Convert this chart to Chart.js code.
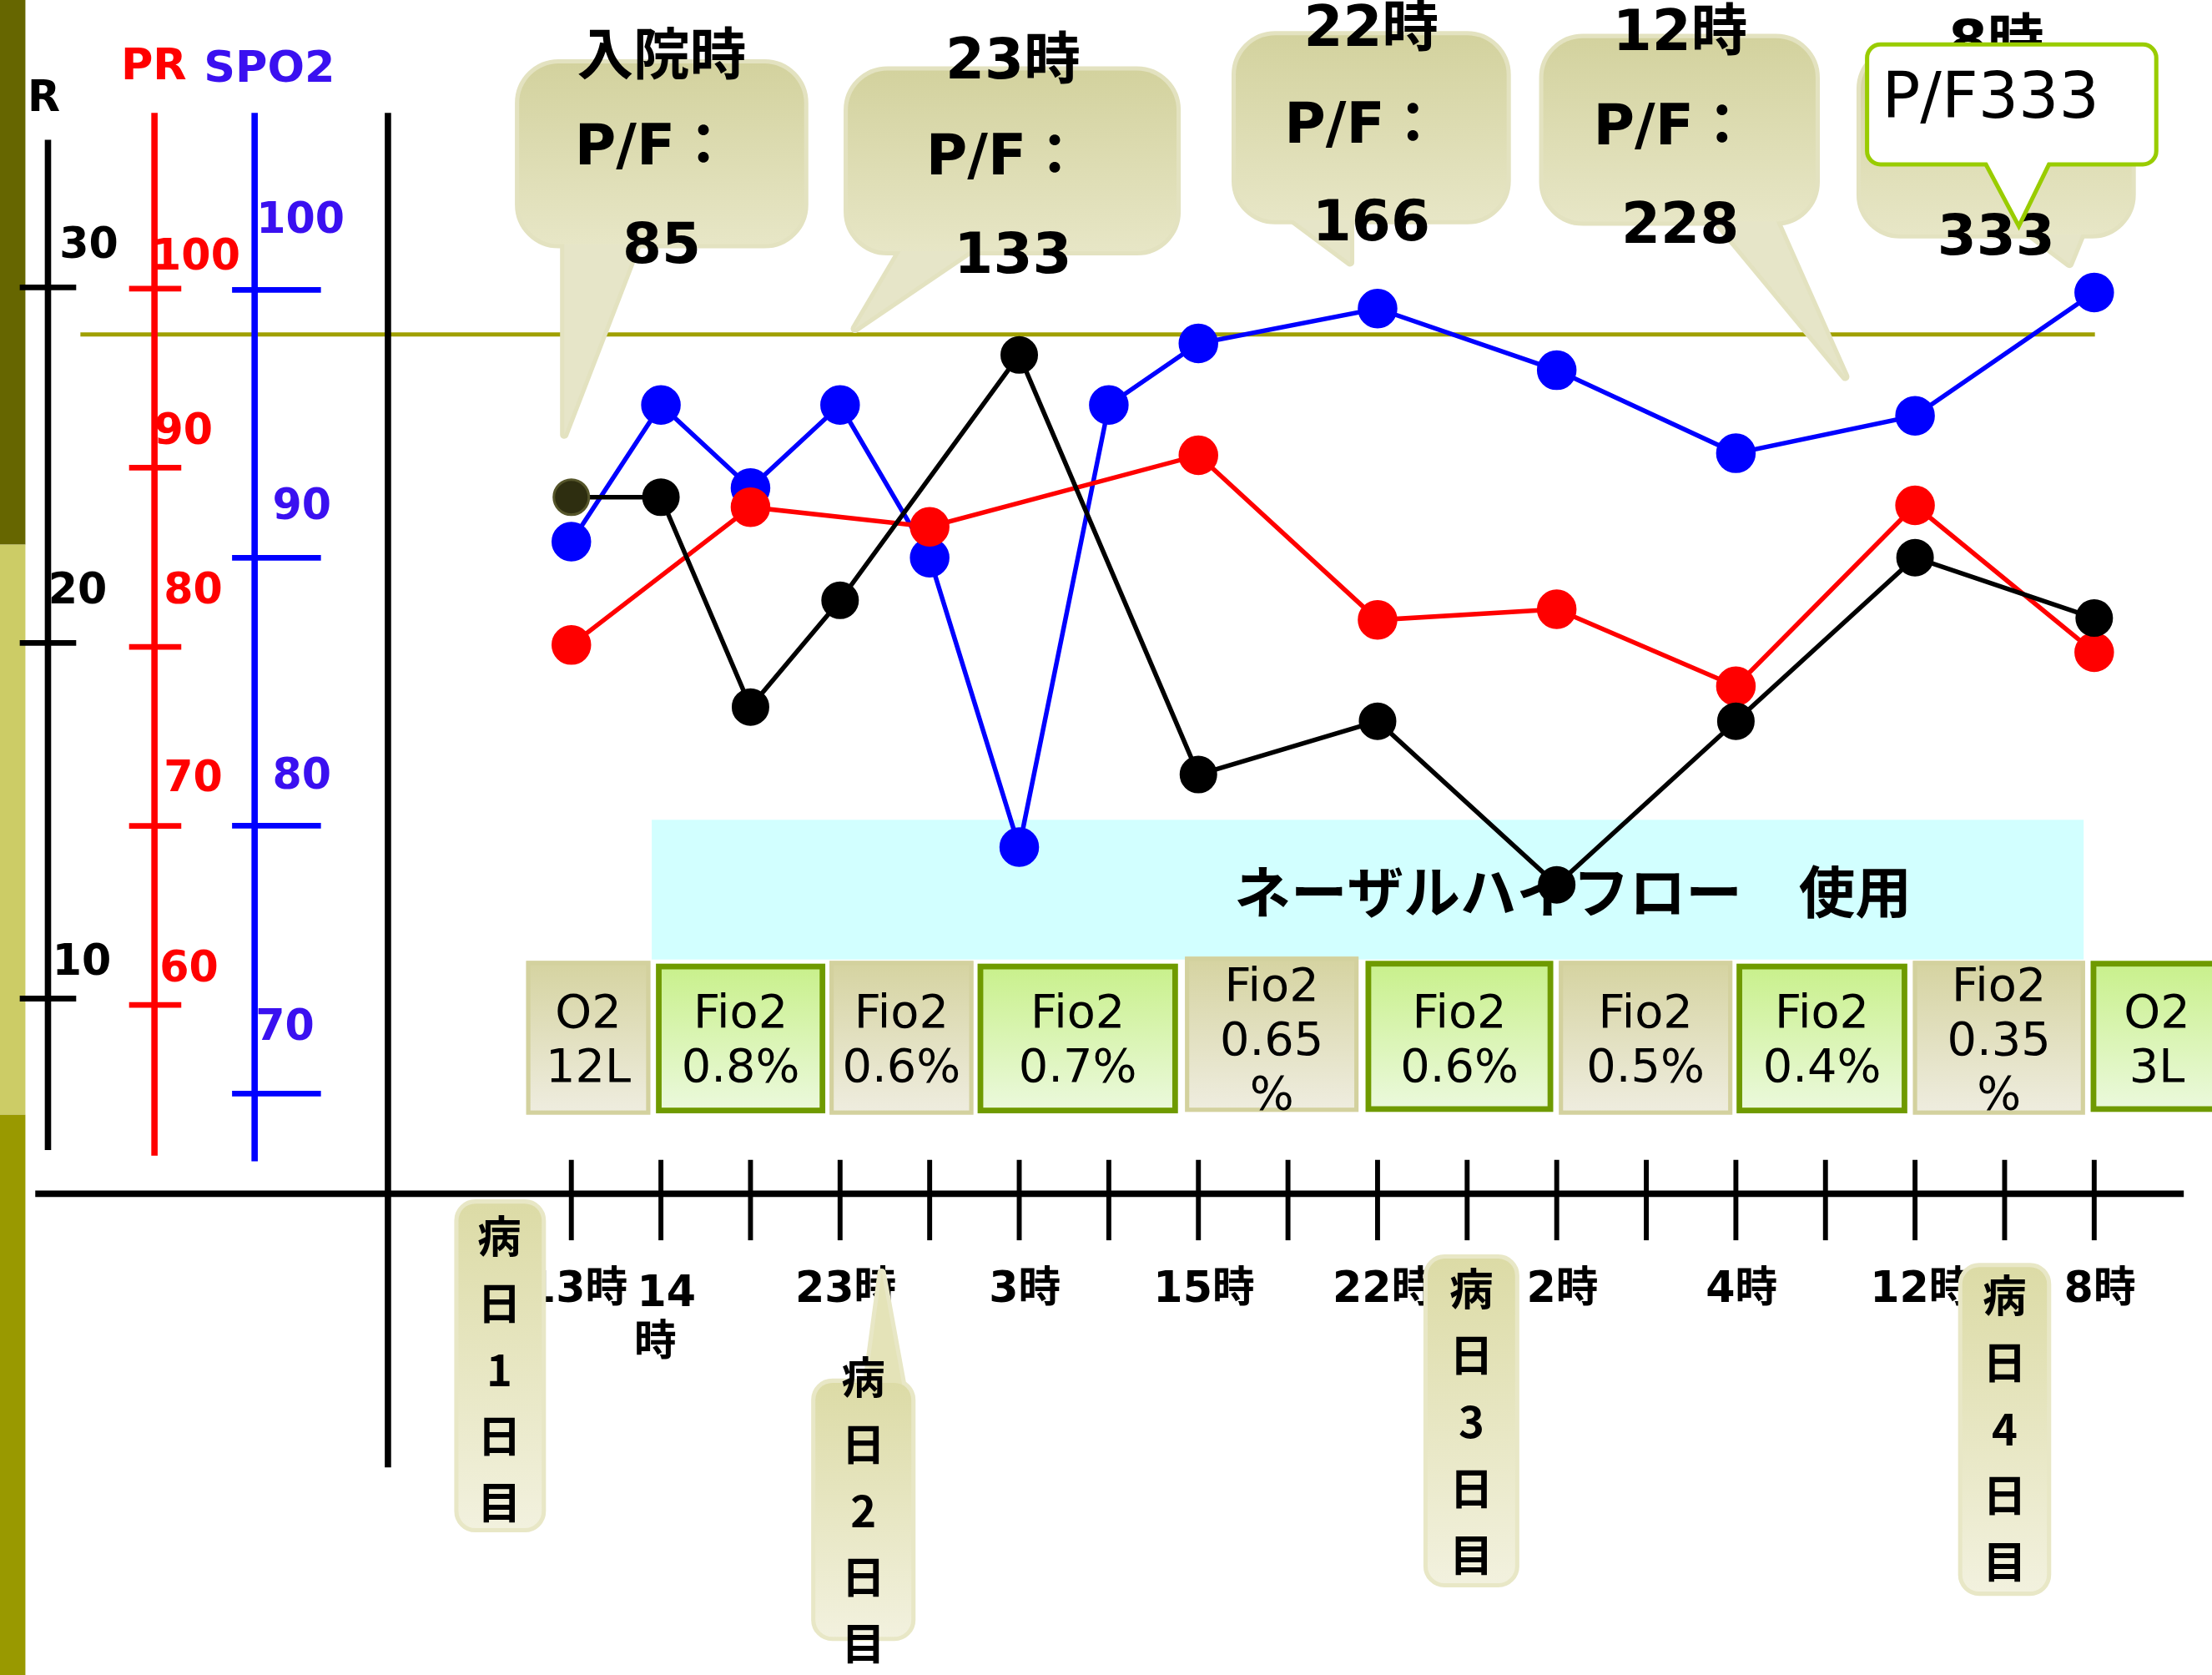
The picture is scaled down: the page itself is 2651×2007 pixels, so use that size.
<!DOCTYPE html>
<html>
<head>
<meta charset="utf-8">
<script src="https://cdn.jsdelivr.net/npm/chart.js@4.4.1/dist/chart.umd.min.js"></script>
<style>
  html, body { margin: 0; padding: 0; background: #fff; }
  #wrap { width: 2651px; height: 2007px; }
</style>
</head>
<body>
<div id="wrap"><canvas id="vitals" width="2651" height="2007"></canvas></div>
<script>
// time slots along the bottom axis (index = tick position)
const timeLabels = ['13時', ['14', '時'], '', '23時', '', '3時', '', '15時', '', '22時', '', '2時', '', '4時', '', '12時', '', '8時'];

// R (resp. rate)
const rSlots  = [0, 1, 2, 3, 5, 7, 9, 11, 13, 15, 17];
const rValues = [24.1, 24.1, 18.2, 21.2, 28.1, 16.3, 17.8, 13.2, 17.8, 22.4, 20.7];

// PR (pulse)
const prSlots  = [0, 2, 4, 7, 9, 11, 13, 15, 17];
const prValues = [80.1, 87.8, 86.7, 90.7, 81.5, 82.1, 77.8, 87.9, 79.7];

// SPO2
const spo2Slots  = [0, 1, 2, 3, 4, 5, 6, 7, 9, 11, 13, 15, 17];
const spo2Values = [90.6, 95.7, 92.6, 95.7, 90.0, 79.2, 95.7, 98.0, 99.3, 97.0, 93.9, 95.3, 99.9];

// hand drawn axes
const rTicks    = [30, 20, 10];
const prTicks   = [100, 90, 80, 70, 60];
const spo2Ticks = [100, 90, 80, 70];

// P/F callouts
const pfTimes  = ['入院時', '23時', '22時', '12時', '8時'];
const pfValues = ['85', '133', '166', '228', '333'];

// oxygen row
const o2Labels = [['O2', '12L'], ['Fio2', '0.8%'], ['Fio2', '0.6%'], ['Fio2', '0.7%'], ['Fio2', '0.65', '%'],
                  ['Fio2', '0.6%'], ['Fio2', '0.5%'], ['Fio2', '0.4%'], ['Fio2', '0.35', '%'], ['O2', '3L']];

const dayLabels = ['病日1日目', '病日2日目', '病日3日目', '病日4日目'];
const nhfLabel = 'ネーザルハイフロー　使用';

// ---- layout (sketch units, 1568 wide) ----
const S = 2651 / 1568;
const H = 2007 / S;
const FONT = '"DejaVu Sans", "Noto Sans CJK JP", sans-serif';

// vertical fits for each hand drawn axis: value at ref, pixel at ref, px per unit
function fit(vRef, yRef, ppu) {
  return { min: vRef - (H - yRef) / ppu, max: vRef + yRef / ppu };
}
const rRange = fit(20, 455.7, 25.2);
const prRange = fit(80, 458.4, 12.69);
const spRange = fit(85, 490.25, 18.99);

const rLabelPos  = [[63, 175], [55, 420], [58, 683]];
const prLabelPos = [[139, 183], [130, 307], [137, 420], [137, 553], [134, 688]];
const spLabelPos = [[213, 157], [214, 360], [214, 551], [202, 729]];

const pfBoxes = [
  { box: [368, 45, 570, 173],  tail: [[400, 168], [454, 168], [400, 308]],  cx: 469,  ys: [42, 106, 176] },
  { box: [601, 50, 834, 178],  tail: [[642, 172], [696, 172], [606, 233]],  cx: 718,  ys: [45, 113, 183] },
  { box: [876, 25, 1068, 156], tail: [[906, 148], [957, 148], [957, 186]],  cx: 972,  ys: [22, 91, 160] },
  { box: [1094, 27, 1287, 157], tail: [[1211, 150], [1256, 150], [1308, 267]], cx: 1191, ys: [25, 92, 162] },
  { box: [1319, 35, 1511, 166], tail: [[1431, 160], [1478, 160], [1467, 187]], cx: 1415, ys: [32, 99, 170] }
];

const o2Boxes = [
  [373, 681, 461, 790, 0], [465, 683, 585, 789, 1], [588, 681, 690, 790, 0], [693, 683, 835, 789, 1],
  [840, 678, 963, 788, 0], [968, 681, 1101, 788, 1], [1105, 681, 1228, 790, 0], [1231, 683, 1352, 789, 1],
  [1356, 681, 1478, 790, 0], [1482, 681, 1576, 788, 1]
];

const dayBoxes = [
  { box: [325, 853, 384, 1083], cx: 354, y0: 876 },
  { box: [578, 980, 646, 1160], cx: 612, y0: 976, tail: [[614, 984], [640, 984], [625, 902]] },
  { box: [1012, 892, 1074, 1122], cx: 1043, y0: 913 },
  { box: [1391, 898, 1451, 1128], cx: 1421, y0: 918 }
];

function rr(ctx, x0, y0, x1, y1, r) {
  ctx.beginPath();
  ctx.moveTo(x0 + r, y0);
  ctx.arcTo(x1, y0, x1, y1, r);
  ctx.arcTo(x1, y1, x0, y1, r);
  ctx.arcTo(x0, y1, x0, y0, r);
  ctx.arcTo(x0, y0, x1, y0, r);
  ctx.closePath();
}
function poly(ctx, pts) {
  ctx.beginPath();
  ctx.moveTo(pts[0][0], pts[0][1]);
  pts.slice(1).forEach(p => ctx.lineTo(p[0], p[1]));
  ctx.closePath();
}
function grad(ctx, y0, y1, c0, c1) {
  const g = ctx.createLinearGradient(0, y0, 0, y1);
  g.addColorStop(0, c0);
  g.addColorStop(1, c1);
  return g;
}
function text(ctx, s, x, y, font, color, align) {
  ctx.font = font;
  ctx.fillStyle = color;
  ctx.textAlign = align || 'center';
  ctx.textBaseline = 'middle';
  ctx.fillText(s, x, y);
}

function drawCallout(ctx, c, r, top, bot, edge, tailCol) {
  const [x0, y0, x1, y1] = c.box;
  ctx.lineJoin = 'round';
  ctx.strokeStyle = edge;
  ctx.lineWidth = 6;
  if (c.tail) { poly(ctx, c.tail); ctx.stroke(); }
  rr(ctx, x0, y0, x1, y1, r); ctx.stroke();
  if (c.tail) { poly(ctx, c.tail); ctx.fillStyle = tailCol; ctx.fill(); }
  rr(ctx, x0, y0, x1, y1, r);
  ctx.fillStyle = grad(ctx, y0, y1, top, bot);
  ctx.fill();
}

const sketch = {
  id: 'sketch',
  beforeDraw(chart) {
    const ctx = chart.ctx;
    ctx.save();
    ctx.fillStyle = '#fff';
    ctx.fillRect(0, 0, chart.width, chart.height);
    ctx.restore();
  },
  beforeDatasetsDraw(chart) {
    const ctx = chart.ctx;
    const sx = chart.scales.x, sR = chart.scales.yR, sP = chart.scales.yPR, sS = chart.scales.ySp;
    ctx.save();
    ctx.scale(S, S);

    // left strip
    ctx.fillStyle = '#666600'; ctx.fillRect(0, 0, 18, 386);
    ctx.fillStyle = '#cccc66'; ctx.fillRect(0, 386, 18, 404);
    ctx.fillStyle = '#999900'; ctx.fillRect(0, 790, 18, H - 790);

    // nasal high flow band
    ctx.fillStyle = '#d2ffff';
    ctx.fillRect(462, 581, 1015, 99);
    text(ctx, nhfLabel, 1115, 632, 'bold 40px "Noto Sans CJK JP", sans-serif', '#000');

    // oxygen row
    o2Boxes.forEach((b, i) => {
      const [x0, y0, x1, y1, green] = b;
      if (green) {
        ctx.fillStyle = grad(ctx, y0, y1, '#c8f08a', '#ecf9de');
        ctx.fillRect(x0, y0, x1 - x0, y1 - y0);
        ctx.strokeStyle = '#6f9a00'; ctx.lineWidth = 4;
        ctx.strokeRect(x0 + 2, y0 + 2, x1 - x0 - 4, y1 - y0 - 4);
      } else {
        ctx.fillStyle = grad(ctx, y0, y1, '#d5d3a0', '#efede0');
        ctx.fillRect(x0, y0, x1 - x0, y1 - y0);
        ctx.strokeStyle = '#d3d19e'; ctx.lineWidth = 3;
        ctx.strokeRect(x0 + 1.5, y0 + 1.5, x1 - x0 - 3, y1 - y0 - 3);
      }
      const lines = o2Labels[i];
      const cx = (x0 + x1) / 2;
      lines.forEach((s, k) => {
        text(ctx, s, cx, 739 + (k - (lines.length - 1) / 2) * 38.5, '33px "DejaVu Sans", sans-serif', '#000');
      });
    });

    // olive reference line
    ctx.strokeStyle = '#a0a000'; ctx.lineWidth = 3;
    ctx.beginPath(); ctx.moveTo(57, 237); ctx.lineTo(1485, 237); ctx.stroke();

    // hand drawn vertical axes
    const axis = (x, y0, y1, col, scale, ticks, l, r, pos, labCol) => {
      ctx.strokeStyle = col; ctx.lineWidth = 4.5;
      ctx.beginPath(); ctx.moveTo(x, y0); ctx.lineTo(x, y1); ctx.stroke();
      ctx.lineWidth = 4;
      ticks.forEach((v, i) => {
        const y = scale.getPixelForValue(v) / S;
        ctx.beginPath(); ctx.moveTo(x - l, y); ctx.lineTo(x + r, y); ctx.stroke();
        text(ctx, String(v), pos[i][0], pos[i][1], 'bold 30px ' + FONT, labCol);
      });
    };
    axis(34, 99, 815, '#000', sR, rTicks, 20, 20, rLabelPos, '#000');
    axis(109.5, 80, 819, '#ff0000', sP, prTicks, 18, 19, prLabelPos, '#ff0000');
    axis(180.5, 80, 823, '#0000ff', sS, spo2Ticks, 16, 47, spLabelPos, '#3a10f0');
    text(ctx, 'R', 31, 71, 'bold 30px ' + FONT, '#000');
    text(ctx, 'PR', 109, 48, 'bold 31px ' + FONT, '#ff0000');
    text(ctx, 'SPO2', 191, 50, 'bold 31px ' + FONT, '#3a10f0');

    ctx.strokeStyle = '#000'; ctx.lineWidth = 4.5;
    ctx.beginPath(); ctx.moveTo(275, 80); ctx.lineTo(275, 1040); ctx.stroke();

    // time axis
    ctx.lineWidth = 4.5;
    ctx.beginPath(); ctx.moveTo(25, 846); ctx.lineTo(1548, 846); ctx.stroke();
    ctx.lineWidth = 3.5;
    timeLabels.forEach((lab, i) => {
      const x = sx.getPixelForValue(i) / S;
      ctx.beginPath(); ctx.moveTo(x, 822); ctx.lineTo(x, 879); ctx.stroke();
      if (Array.isArray(lab)) {
        text(ctx, lab[0], x + 4, 918, 'bold 30px ' + FONT, '#000');
        text(ctx, lab[1], x - 4, 953, 'bold 30px ' + FONT, '#000');
      } else if (lab) {
        text(ctx, lab, x + 4, 915, 'bold 30px ' + FONT, '#000');
      }
    });

    // day markers
    dayBoxes.forEach((d, i) => {
      drawCallout(ctx, d, 12, '#dcdba6', '#f2f1de', '#e8e7c6', '#e4e3b8');
      Array.from(dayLabels[i]).forEach((ch, k) => {
        text(ctx, ch, d.cx, d.y0 + k * 47.2, 'bold 31px "Noto Sans CJK JP", sans-serif', '#000');
      });
    });

    // P/F callouts
    pfBoxes.forEach((c, i) => {
      drawCallout(ctx, c, 28, '#d3d29e', '#e7e6c6', '#e3e2c0', '#e6e5c8');
      const f = 'bold 40px ' + FONT;
      text(ctx, pfTimes[i], c.cx, c.ys[0], f, '#000');
      text(ctx, 'P/F：', c.cx - 6, c.ys[1], f, '#000');
      text(ctx, pfValues[i], c.cx, c.ys[2], f, '#000');
    });

    // white note over the last callout
    const note = { box: [1325, 33, 1527, 115], tail: [[1407, 112], [1453, 112], [1431, 157]] };
    ctx.lineJoin = 'miter';
    ctx.strokeStyle = '#99cc00'; ctx.lineWidth = 6;
    poly(ctx, note.tail); ctx.stroke();
    rr(ctx, 1325, 33, 1527, 115, 8); ctx.stroke();
    ctx.fillStyle = '#fff';
    poly(ctx, note.tail); ctx.fill();
    rr(ctx, 1325, 33, 1527, 115, 8); ctx.fill();
    text(ctx, 'P/F' + pfValues[4], 1334, 72, '45px "DejaVu Sans", sans-serif', '#000', 'left');

    ctx.restore();
  }
};

const pts = (xs, ys) => xs.map((x, i) => ({ x: x, y: ys[i] }));

new Chart(document.getElementById('vitals').getContext('2d'), {
  type: 'line',
  data: {
    datasets: [{
      label: 'R',
      data: pts(rSlots, rValues),
      yAxisID: 'yR',
      borderColor: '#000',
      borderWidth: 5.5,
      pointBackgroundColor: rSlots.map((_, i) => i === 0 ? '#2e2e10' : '#000'),
      pointBorderColor: rSlots.map((_, i) => i === 0 ? '#55552a' : '#000'),
      pointBorderWidth: 3,
      pointRadius: 21
    }, {
      label: 'PR',
      data: pts(prSlots, prValues),
      yAxisID: 'yPR',
      borderColor: '#ff0000',
      borderWidth: 5.5,
      pointBackgroundColor: '#ff0000',
      pointBorderColor: '#ff0000',
      pointRadius: 21
    }, {
      label: 'SPO2',
      data: pts(spo2Slots, spo2Values),
      yAxisID: 'ySp',
      borderColor: '#0000ff',
      borderWidth: 5.5,
      pointBackgroundColor: '#0000ff',
      pointBorderColor: '#0000ff',
      pointRadius: 21
    }]
  },
  options: {
    responsive: false,
    animation: false,
    devicePixelRatio: 1,
    layout: { padding: 0, autoPadding: false },
    elements: { line: { tension: 0 } },
    plugins: { legend: { display: false }, tooltip: { enabled: false } },
    scales: {
      x: { type: 'linear', display: false, min: -405 / 63.5, max: (1568 - 405) / 63.5 },
      yR: { type: 'linear', display: false, min: rRange.min, max: rRange.max },
      yPR: { type: 'linear', display: false, min: prRange.min, max: prRange.max },
      ySp: { type: 'linear', display: false, min: spRange.min, max: spRange.max }
    }
  },
  plugins: [sketch]
});
</script>
</body>
</html>
